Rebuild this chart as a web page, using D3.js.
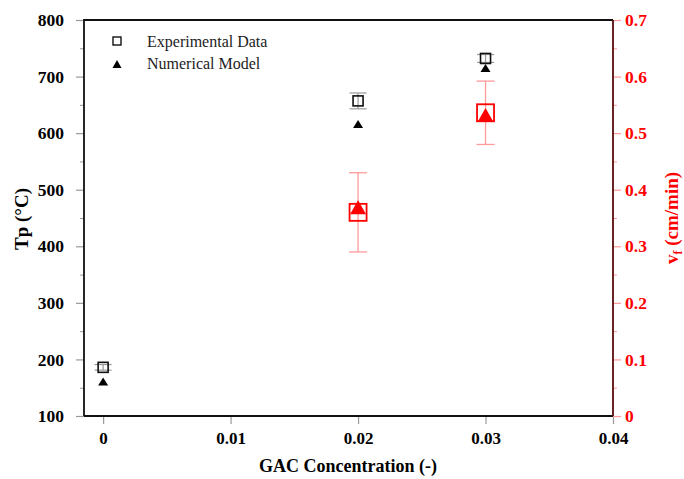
<!DOCTYPE html>
<html>
<head>
<meta charset="utf-8">
<script src="https://cdn.jsdelivr.net/npm/d3@7"></script>
<style>
  html, body { margin: 0; padding: 0; background: #fff; }
  svg { display: block; font-family: "Liberation Serif", "Times New Roman", serif; }
</style>
</head>
<body>
<svg id="chart" width="684" height="479"></svg>
<script>
// GAC concentration (-) at which samples were measured
const gac = [0, 0.02, 0.03];
// Peak temperature Tp (°C)
const tpExp = [186, 657, 732];
const tpExpErr = [5, 14, 7];
const tpNum = [161, 616, 715];
// Front velocity vf (cm/min)
const vfGac = [0.02, 0.03];
const vfExp = [0.36, 0.536];
const vfExpErr = [0.07, 0.056];
const vfNum = [0.369, 0.532];

const xTicks = [0, 0.01, 0.02, 0.03, 0.04];
const xTickLabels = ["0", "0.01", "0.02", "0.03", "0.04"];
const yLeftTicks = [100, 200, 300, 400, 500, 600, 700, 800];
const yRightTicks = [0, 0.1, 0.2, 0.3, 0.4, 0.5, 0.6, 0.7];
const legendLabels = ["Experimental Data", "Numerical Model"];

const svg = d3.select("#chart");
const L = 84, R = 613, T = 20, B = 416;

const x = d3.scaleLinear().domain([-0.0015, 0.04]).range([L, R]);
const yL = d3.scaleLinear().domain([100, 800]).range([B, T]);
const yR = d3.scaleLinear().domain([0, 0.7]).range([B, T]);

const RED = "#ff0000";
const PINK = "#ff9a9a";
const GRAY = "#9a9a9a";

// Bottom axis
const xAxis = d3.axisBottom(x).tickValues(xTicks)
  .tickFormat((d, i) => xTickLabels[i]).tickSize(8).tickPadding(8);
const gx = svg.append("g").attr("transform", `translate(0,${B})`).call(xAxis);
gx.select(".domain").remove();
gx.selectAll(".tick line").attr("stroke", GRAY).attr("stroke-width", 1.2);
gx.selectAll(".tick text").attr("fill", "#000").attr("font-size", 17)
  .attr("font-weight", "bold").attr("font-family", "Liberation Serif, serif");

// Left axis: minor ticks then major ticks
const gyMinor = svg.append("g").attr("transform", `translate(${L},0)`)
  .call(d3.axisLeft(yL).tickValues(d3.range(150, 800, 100)).tickSize(4).tickFormat(""));
gyMinor.select(".domain").remove();
gyMinor.selectAll(".tick line").attr("stroke", GRAY);
const gy = svg.append("g").attr("transform", `translate(${L},0)`)
  .call(d3.axisLeft(yL).tickValues(yLeftTicks).tickSize(8).tickPadding(12).tickFormat(d3.format("d")));
gy.select(".domain").remove();
gy.selectAll(".tick line").attr("stroke", GRAY).attr("stroke-width", 1.2);
gy.selectAll(".tick text").attr("fill", "#000").attr("font-size", 17.5)
  .attr("font-weight", "bold").attr("font-family", "Liberation Serif, serif");

// Right axis in red
const grMinor = svg.append("g").attr("transform", `translate(${R},0)`)
  .call(d3.axisRight(yR).tickValues(d3.range(0.05, 0.7, 0.1)).tickSize(4).tickFormat(""));
grMinor.select(".domain").remove();
grMinor.selectAll(".tick line").attr("stroke", PINK);
const gr = svg.append("g").attr("transform", `translate(${R},0)`)
  .call(d3.axisRight(yR).tickValues(yRightTicks).tickSize(8).tickPadding(4)
    .tickFormat(d => d === 0 ? "0" : d3.format(".1f")(d)));
gr.select(".domain").remove();
gr.selectAll(".tick line").attr("stroke", PINK).attr("stroke-width", 1.2);
gr.selectAll(".tick text").attr("fill", RED).attr("font-size", 17.5)
  .attr("font-weight", "bold").attr("font-family", "Liberation Serif, serif");

// Frame
svg.append("path")
  .attr("d", `M${L},${B}V${T}H${R}`)
  .attr("fill", "none").attr("stroke", "#111").attr("stroke-width", 1.8);
svg.append("line").attr("x1", L).attr("x2", R).attr("y1", B).attr("y2", B)
  .attr("stroke", "#111").attr("stroke-width", 1.8);
svg.append("line").attr("x1", R).attr("x2", R).attr("y1", T).attr("y2", B)
  .attr("stroke", "#5a0a0a").attr("stroke-width", 1.8);

// Triangle path centred on its bounding box
function tri(cx, cy, w, h) {
  return `M${cx},${cy - h / 2}L${cx + w / 2},${cy + h / 2}L${cx - w / 2},${cy + h / 2}Z`;
}

// Error bars helper
function errBar(g, cx, yTop, yBot, capW, color, sw) {
  g.append("line").attr("x1", cx).attr("x2", cx).attr("y1", yTop).attr("y2", yBot)
    .attr("stroke", color).attr("stroke-width", sw);
  [yTop, yBot].forEach(yy => g.append("line")
    .attr("x1", cx - capW / 2).attr("x2", cx + capW / 2).attr("y1", yy).attr("y2", yy)
    .attr("stroke", color).attr("stroke-width", sw));
}

// Tp: experimental data with error bars
const gTp = svg.append("g");
gac.forEach((g, i) => {
  errBar(gTp, x(g), yL(tpExp[i] + tpExpErr[i]), yL(tpExp[i] - tpExpErr[i]), 17, GRAY, 1.2);
});
gTp.selectAll("rect.exp").data(gac).join("rect").attr("class", "exp")
  .attr("x", d => x(d) - 5).attr("y", (d, i) => yL(tpExp[i]) - 5)
  .attr("width", 10).attr("height", 10)
  .attr("fill", "none").attr("stroke", "#111").attr("stroke-width", 1.6);
// Tp: numerical model
gTp.selectAll("path.num").data(gac).join("path").attr("class", "num")
  .attr("d", (d, i) => tri(x(d), yL(tpNum[i]), 10, 8)).attr("fill", "#000");

// vf: experimental data with error bars
const gVf = svg.append("g");
vfGac.forEach((g, i) => {
  errBar(gVf, x(g), yR(vfExp[i] + vfExpErr[i]), yR(vfExp[i] - vfExpErr[i]), 18, PINK, 1.3);
});
gVf.selectAll("rect.exp").data(vfGac).join("rect").attr("class", "exp")
  .attr("x", d => x(d) - 8.5).attr("y", (d, i) => yR(vfExp[i]) - 8.5)
  .attr("width", 17).attr("height", 17)
  .attr("fill", "none").attr("stroke", RED).attr("stroke-width", 1.8);
// vf: numerical model
gVf.selectAll("path.num").data(vfGac).join("path").attr("class", "num")
  .attr("d", (d, i) => tri(x(d), yR(vfNum[i]), 16, 14)).attr("fill", RED);

// Legend
const lg = svg.append("g");
lg.append("rect").attr("x", 113).attr("y", 37).attr("width", 8).attr("height", 8)
  .attr("fill", "none").attr("stroke", "#111").attr("stroke-width", 1.4);
lg.append("path").attr("d", tri(117, 64, 9, 8)).attr("fill", "#000");
lg.selectAll("text").data(legendLabels).join("text")
  .attr("x", 147).attr("y", (d, i) => 46.5 + i * 22)
  .attr("font-size", 16).attr("fill", "#222").text(d => d);

// Axis titles
svg.append("text").attr("transform", `translate(${x(0.02) - 10},472)`)
  .attr("text-anchor", "middle").attr("font-size", 18).attr("font-weight", "bold")
  .text("GAC Concentration (-)");
svg.append("text").attr("transform", "translate(28,219) rotate(-90)")
  .attr("text-anchor", "middle").attr("font-size", 19).attr("font-weight", "bold")
  .text("Tp (°C)");
const rt = svg.append("text").attr("transform", "translate(678,218) rotate(-90)")
  .attr("text-anchor", "middle").attr("font-size", 19).attr("font-weight", "bold")
  .attr("fill", RED);
rt.append("tspan").text("v");
rt.append("tspan").attr("font-size", 12).attr("dy", 4).text("f");
rt.append("tspan").attr("dy", -4).text(" (cm/min)");
</script>
</body>
</html>
